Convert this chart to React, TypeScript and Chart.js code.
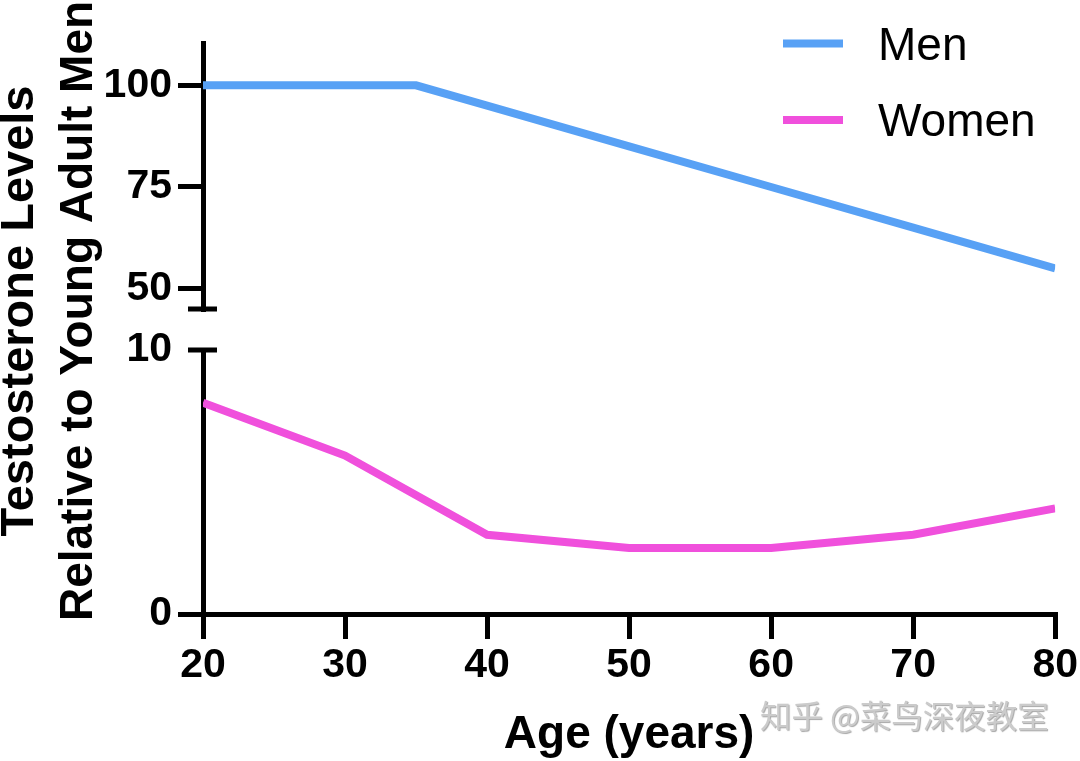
import React, { useEffect, useRef } from "react";
import { Chart, registerables } from "chart.js";

Chart.register(...registerables);

// ---- data ----
const menAges = [20, 30, 35, 40, 50, 60, 70, 80];
const menLevels = [100, 100, 100, 95, 85, 75, 65, 55];
const womenAges = [20, 30, 40, 50, 60, 70, 80];
const womenLevels = [8, 6, 3, 2.5, 2.5, 3, 4];
const xTicks = [20, 30, 40, 50, 60, 70, 80];
const topTicks = [50, 75, 100];
const bottomTicks = [0, 10];
const seriesLabels = ["Men", "Women"];
const seriesColors = ["#58a1f5", "#f050dc"];
const yTitleLines = ["Testosterone Levels", "Relative to Young Adult Men"];
const xTitle = "Age (years)";
const watermark = "知乎 @菜鸟深夜教室";

const FONT = '"Liberation Sans", Arial, Helvetica, sans-serif';

const decor = {
  id: "decor",
  afterDraw(chart: any) {
    const ctx = chart.ctx as CanvasRenderingContext2D;
    const top = chart.scales.yTop;
    const bot = chart.scales.yBot;
    const axisX = bot.right;
    ctx.save();
    // axis break caps
    ctx.strokeStyle = "#000";
    ctx.lineWidth = 5;
    ctx.lineCap = "butt";
    ctx.beginPath();
    ctx.moveTo(axisX - 15, top.bottom);
    ctx.lineTo(axisX + 14, top.bottom);
    ctx.moveTo(axisX - 15, bot.top);
    ctx.lineTo(axisX + 14, bot.top);
    ctx.stroke();

    // y title (two lines, rotated)
    ctx.fillStyle = "#000";
    ctx.textAlign = "center";
    ctx.textBaseline = "alphabetic";
    const cy = 311;
    const sizes = [47, 46];
    [33, 92].forEach((bx, i) => {
      ctx.save();
      ctx.font = `bold ${sizes[i]}px ${FONT}`;
      ctx.translate(bx, cy);
      ctx.rotate(-Math.PI / 2);
      ctx.fillText(yTitleLines[i], 0, 0);
      ctx.restore();
    });

    // legend
    const lineY = [43.5, 120];
    const textY = [60, 136];
    chart.data.datasets.forEach((ds: any, i: number) => {
      ctx.strokeStyle = ds.borderColor;
      ctx.lineWidth = 8;
      ctx.beginPath();
      ctx.moveTo(783, lineY[i]);
      ctx.lineTo(843, lineY[i]);
      ctx.stroke();
      ctx.fillStyle = "#000";
      ctx.font = `46px ${FONT}`;
      ctx.textAlign = "left";
      ctx.textBaseline = "alphabetic";
      ctx.fillText(ds.label, 878, textY[i]);
    });

    // watermark
    ctx.font = `31.5px "Noto Sans CJK SC", sans-serif`;
    ctx.textAlign = "left";
    ctx.textBaseline = "middle";
    ctx.shadowColor = "rgba(0,0,0,0.35)";
    ctx.shadowOffsetX = 1;
    ctx.shadowOffsetY = 1;
    ctx.shadowBlur = 1;
    ctx.fillStyle = "#cbcbcb";
    ctx.fillText(watermark, 760, 716);
    ctx.restore();
  },
};

const tickFont = { family: FONT, size: 41, weight: "bold" as const };

export default function App() {
  const ref = useRef<HTMLCanvasElement | null>(null);
  useEffect(() => {
    document.body.style.margin = "0";
    const canvas = ref.current;
    if (!canvas) return;
    const chart = new Chart(canvas, {
      type: "line",
      data: {
        datasets: [
          {
            label: seriesLabels[0],
            data: menAges.map((a, i) => ({ x: a, y: menLevels[i] })),
            borderColor: seriesColors[0],
            backgroundColor: seriesColors[0],
            borderWidth: 8,
            pointRadius: 0,
            tension: 0,
            yAxisID: "yTop",
          },
          {
            label: seriesLabels[1],
            data: womenAges.map((a, i) => ({ x: a, y: womenLevels[i] })),
            borderColor: seriesColors[1],
            backgroundColor: seriesColors[1],
            borderWidth: 8,
            pointRadius: 0,
            tension: 0,
            yAxisID: "yBot",
          },
        ],
      },
      options: {
        animation: false,
        responsive: false,
        layout: { padding: { top: 43, right: 23, left: 0, bottom: 0 } },
        plugins: {
          legend: { display: false },
          tooltip: { enabled: false },
          title: { display: false },
        },
        scales: {
          x: {
            type: "linear",
            position: "bottom",
            min: 20,
            max: 80,
            afterBuildTicks: (s: any) => {
              s.ticks = xTicks.map((v) => ({ value: v }));
            },
            afterFit: (s: any) => {
              s.height = 147;
            },
            grid: {
              drawOnChartArea: false,
              drawTicks: true,
              tickLength: 25,
              lineWidth: 5,
              color: "#000",
            },
            border: { display: true, width: 5, color: "#000" },
            ticks: { color: "#000", font: tickFont, padding: 2, maxRotation: 0 },
            title: {
              display: true,
              text: xTitle,
              color: "#000",
              font: { family: FONT, size: 46, weight: "bold", lineHeight: 1 },
              padding: { top: 0, bottom: 3 },
            },
          },
          yBot: {
            type: "linear",
            position: "left",
            stack: "y",
            stackWeight: 264,
            weight: 1,
            min: 0,
            max: 10,
            afterBuildTicks: (s: any) => {
              s.ticks = bottomTicks.map((v) => ({ value: v }));
            },
            afterFit: (s: any) => {
              s.width = 203;
            },
            grid: {
              drawOnChartArea: false,
              drawTicks: true,
              tickLength: 25,
              lineWidth: 5,
              color: "#000",
              tickColor: (c: any) =>
                c.tick && c.tick.value === bottomTicks[bottomTicks.length - 1]
                  ? "rgba(0,0,0,0)"
                  : "#000",
            },
            border: { display: true, width: 5, color: "#000" },
            ticks: { color: "#000", font: tickFont, padding: 6 },
          },
          yGap: {
            type: "linear",
            position: "left",
            stack: "y",
            stackWeight: 41,
            weight: 2,
            min: 0,
            max: 1,
            afterFit: (s: any) => {
              s.width = 203;
            },
            grid: { display: false },
            border: { display: false },
            ticks: { display: false },
          },
          yTop: {
            type: "linear",
            position: "left",
            stack: "y",
            stackWeight: 266,
            weight: 3,
            min: 45,
            max: 110.4,
            afterBuildTicks: (s: any) => {
              s.ticks = topTicks.map((v) => ({ value: v }));
            },
            afterFit: (s: any) => {
              s.width = 203;
            },
            grid: {
              drawOnChartArea: false,
              drawTicks: true,
              tickLength: 25,
              lineWidth: 5,
              color: "#000",
            },
            border: { display: true, width: 5, color: "#000" },
            ticks: { color: "#000", font: tickFont, padding: 6 },
          },
        },
      } as any,
      plugins: [decor],
    });
    return () => chart.destroy();
  }, []);
  return (
    <div style={{ width: 1080, height: 761, background: "#fff" }}>
      <canvas ref={ref} width={1080} height={761} />
    </div>
  );
}
